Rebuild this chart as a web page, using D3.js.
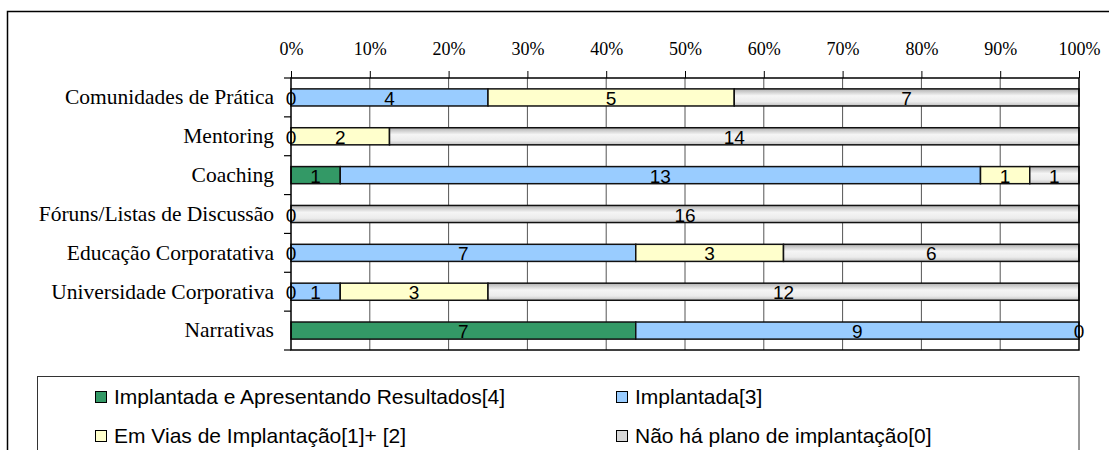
<!DOCTYPE html>
<html>
<head>
<meta charset="utf-8">
<script src="https://cdn.jsdelivr.net/npm/d3@7"></script>
<style>
  body { margin: 0; background: #fff; }
  svg { display: block; }
</style>
</head>
<body>
<svg width="1109" height="450"></svg>
<script>
// categories, top to bottom
var categories = [
    'Comunidades de Prática',
    'Mentoring',
    'Coaching',
    'Fóruns/Listas de Discussão',
    'Educação Corporatativa',
    'Universidade Corporativa',
    'Narrativas'
];

// one array per legend entry (null = no segment, no label)
var implantadaResultados = [0, 0, 1, 0, 0, 0, 7];
var implantada = [4, null, 13, null, 7, 1, 9];
var emVias = [5, 2, 1, null, 3, 3, 0];
var naoHaPlano = [7, 14, 1, 16, 6, 12, null];

var seriesNames = [
    'Implantada e Apresentando Resultados[4]',
    'Implantada[3]',
    'Em Vias de Implantação[1]+ [2]',
    'Não há plano de implantação[0]'
];
var seriesValues = [implantadaResultados, implantada, emVias, naoHaPlano];
var seriesColors = ['#339966', '#99CCFF', '#FFFFCC', 'url(#grayGrad)'];
var legendSwatch = ['#339966', '#99CCFF', '#FFFFCC', '#D8D8D8'];

var tickValues = [0, 0.1, 0.2, 0.3, 0.4, 0.5, 0.6, 0.7, 0.8, 0.9, 1];

var svg = d3.select('svg');

// silver gradient used for the "no plan" bars
var grad = svg.append('defs').append('linearGradient')
    .attr('id', 'grayGrad')
    .attr('x1', 0).attr('y1', 0).attr('x2', 0).attr('y2', 1);
grad.append('stop').attr('offset', '0%').attr('stop-color', '#b0b0b0');
grad.append('stop').attr('offset', '40%').attr('stop-color', '#f5f5f5');
grad.append('stop').attr('offset', '75%').attr('stop-color', '#ececec');
grad.append('stop').attr('offset', '100%').attr('stop-color', '#c0c0c0');

// outer chart frame (clipped by the picture on right and bottom)
svg.append('rect')
    .attr('x', 7.5).attr('y', 11.5)
    .attr('width', 1110).attr('height', 460)
    .attr('fill', 'none').attr('stroke', '#000').attr('stroke-width', 1.5);

// plot area bounds (avoid window.top clash)
var pLeft = 291, pRight = 1079, pTop = 78, pBottom = 350;

var x = d3.scaleLinear().domain([0, 1]).range([pLeft, pRight]);
var y = d3.scaleBand().domain(categories).range([pTop, pBottom])
    .paddingInner(0.56).paddingOuter(0.28);
var yEdge = d3.scaleLinear().domain([0, categories.length]).range([pTop, pBottom]);

// build rows with cumulative shares
var rows = categories.map(function(c, i) {
    var total = d3.sum(seriesValues, function(s) { return s[i] || 0; });
    var acc = 0;
    return seriesValues.map(function(s, k) {
        var v = s[i];
        var x0 = acc / total;
        acc += (v || 0);
        return { cat: c, k: k, v: v, x0: x0, x1: acc / total };
    });
});
var segs = d3.merge(rows);

// gridlines
svg.append('g').selectAll('line')
    .data(tickValues.slice(1, -1))
    .enter().append('line')
        .attr('x1', function(d) { return x(d) }).attr('x2', function(d) { return x(d) })
        .attr('y1', pTop).attr('y2', pBottom)
        .attr('stroke', '#555').attr('stroke-width', 1);

// top axis with percent labels
var xAxis = svg.append('g')
    .attr('transform', 'translate(0,' + pTop + ')')
    .call(d3.axisTop(x).tickValues(tickValues).tickFormat(d3.format('.0%'))
        .tickSize(7).tickPadding(16));
xAxis.select('.domain').remove();
xAxis.selectAll('line').attr('stroke', '#000');
xAxis.selectAll('text')
    .attr('font-family', '"Liberation Serif", "Times New Roman", serif')
    .attr('font-size', 18).attr('fill', '#000');

// bars
svg.append('g').selectAll('rect')
    .data(segs.filter(function(d) { return d.v; }))
    .enter().append('rect')
        .attr('x', function(d) { return x(d.x0) })
        .attr('width', function(d) { return x(d.x1) - x(d.x0) })
        .attr('y', function(d) { return y(d.cat) })
        .attr('height', y.bandwidth())
        .attr('fill', function(d) { return seriesColors[d.k] })
        .attr('stroke', '#111').attr('stroke-width', 1.5);

// plot frame
svg.append('rect')
    .attr('x', pLeft).attr('y', pTop)
    .attr('width', pRight - pLeft).attr('height', pBottom - pTop)
    .attr('fill', 'none').attr('stroke', '#000').attr('stroke-width', 1.5);

// left axis: labels at band centres, ticks at band edges
var yAxis = svg.append('g')
    .attr('transform', 'translate(' + pLeft + ',0)')
    .call(d3.axisLeft(y).tickSize(0).tickPadding(17));
yAxis.select('.domain').remove();
yAxis.selectAll('text')
    .attr('font-family', '"Liberation Serif", "Times New Roman", serif')
    .attr('font-size', 21.5).attr('fill', '#000');

svg.append('g').selectAll('line')
    .data(d3.range(categories.length + 1))
    .enter().append('line')
        .attr('x1', pLeft - 7).attr('x2', pLeft)
        .attr('y1', function(d) { return yEdge(d) }).attr('y2', function(d) { return yEdge(d) })
        .attr('stroke', '#000').attr('stroke-width', 1.2);

// value labels
svg.append('g').selectAll('text')
    .data(segs.filter(function(d) { return d.v !== null; }))
    .enter().append('text')
        .attr('x', function(d) { return (x(d.x0) + x(d.x1)) / 2 })
        .attr('y', function(d) { return y(d.cat) + y.bandwidth() / 2 + 1 })
        .attr('text-anchor', 'middle')
        .attr('dominant-baseline', 'central')
        .attr('font-family', '"Liberation Sans", Arial, sans-serif')
        .attr('font-size', 19).attr('fill', '#000')
        .text(function(d) { return d.v });

// legend
var legend = svg.append('g');
legend.append('rect')
    .attr('x', 37.5).attr('y', 376.5)
    .attr('width', pRight - 37.5).attr('height', 100)
    .attr('fill', '#fff').attr('stroke', '#333').attr('stroke-width', 1);

var legendPos = [[95, 404], [616, 404], [95, 443], [616, 443]];
var legendOrder = [0, 1, 2, 3];
var item = legend.selectAll('g.item')
    .data(legendOrder)
    .enter().append('g')
        .attr('class', 'item')
        .attr('transform', function(d) { return 'translate(' + legendPos[d][0] + ',' + legendPos[d][1] + ')' });
item.append('rect')
    .attr('x', 0.5).attr('y', -12.5).attr('width', 11).attr('height', 11)
    .attr('fill', function(d) { return legendSwatch[d] })
    .attr('stroke', '#000').attr('stroke-width', 1);
item.append('text')
    .attr('x', 19).attr('y', 0)
    .attr('font-family', '"Liberation Sans", Arial, sans-serif')
    .attr('font-size', 21).attr('fill', '#000')
    .text(function(d) { return seriesNames[d] });
</script>
</body>
</html>
